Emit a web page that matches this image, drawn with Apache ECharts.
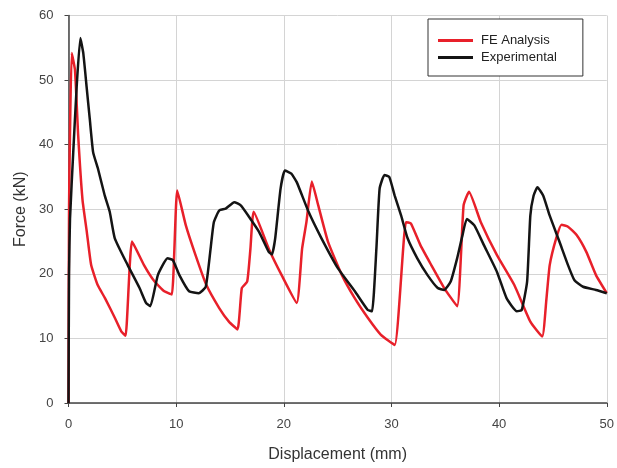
<!DOCTYPE html>
<html>
<head>
<meta charset="utf-8">
<script src="https://cdn.jsdelivr.net/npm/echarts@6/dist/echarts.min.js"></script>
<style>
  html, body { margin: 0; padding: 0; background: #fff; }
  #chart { width: 617px; height: 468px; }
</style>
</head>
<body>
<div id="chart"></div>
<script>
// Force-displacement response: finite element prediction vs. test
const feX = [0, 0.05, 0.3, 0.6, 0.9, 1.3, 1.7, 2.1, 2.7, 3.4, 4.3, 4.9, 5.3, 5.9, 7.0, 8.0, 8.9, 9.6, 10.1, 10.9, 11.8, 12.8, 14.0, 14.9, 15.7, 16.1, 16.6, 16.9, 17.2, 18.6, 19.8, 21.2, 21.7, 22.1, 22.6, 23.2, 24.1, 25.4, 26.6, 27.8, 29.0, 30.3, 31.35, 31.8, 32.7, 33.7, 34.9, 36.1, 36.7, 37.2, 38.3, 39.8, 41.4, 42.9, 44.0, 44.4, 44.7, 45.3, 45.8, 46.4, 47.2, 48.1, 49.0, 50];
const feY = [0, 30, 54.2, 51.6, 41.4, 31.5, 26.5, 21.4, 18.3, 16.2, 13.2, 11.1, 10.4, 25.0, 21.4, 18.8, 17.3, 16.8, 32.9, 27.5, 22.9, 18.3, 14.7, 12.6, 11.4, 17.8, 18.8, 23.9, 29.6, 23.9, 19.8, 15.5, 23.9, 28.0, 34.3, 30.6, 25.0, 19.8, 16.2, 13.2, 10.6, 9.0, 28.0, 27.8, 24.4, 21.35, 17.8, 15.0, 30.6, 32.7, 28.0, 22.9, 18.3, 12.6, 10.3, 16.2, 21.35, 25.5, 27.6, 27.3, 26.0, 23.4, 19.8, 17.0];

const expX = [0, 0.05, 0.14, 0.44, 0.76, 1.1, 1.37, 1.68, 1.98, 2.29, 2.75, 3.37, 3.83, 4.3, 5.5, 6.6, 7.2, 7.6, 8.3, 9.2, 9.7, 10.3, 11.2, 12.1, 12.75, 13.2, 13.5, 14.0, 14.6, 15.4, 16.0, 16.7, 17.7, 18.6, 18.9, 19.2, 19.7, 20.1, 20.7, 21.2, 22.3, 23.5, 25.05, 26.6, 27.8, 28.2, 28.6, 28.9, 29.35, 29.8, 30.3, 30.9, 31.5, 32.4, 33.35, 34.3, 34.9, 35.5, 36.1, 36.6, 37.0, 37.7, 38.6, 39.8, 40.7, 41.65, 42.1, 42.6, 42.9, 43.2, 43.56, 44.1, 44.7, 45.6, 46.4, 47.0, 47.8, 49.0, 50];
const expY = [0, 20, 28.5, 38.8, 49, 56.5, 54.2, 49, 43.9, 38.8, 36.2, 32.1, 29.6, 25.5, 21.35, 17.8, 15.5, 15.0, 19.8, 22.4, 22.1, 19.8, 17.3, 17.0, 18.0, 23.9, 28.0, 29.8, 30.1, 31.1, 30.6, 29.0, 26.5, 23.4, 23.0, 25.5, 33.2, 36.0, 35.5, 34.2, 29.6, 25.5, 20.8, 17.3, 14.4, 14.2, 23.9, 33.2, 35.3, 35.0, 32.1, 29.0, 25.5, 22.4, 19.8, 17.8, 17.5, 18.8, 22.4, 26.0, 28.5, 27.5, 24.4, 20.3, 16.2, 14.2, 14.4, 18.8, 29.0, 32.1, 33.4, 32.1, 29.0, 25.0, 21.35, 19.0, 18.0, 17.5, 17.0];

const seriesNames = ['FE Analysis', 'Experimental'];
const xTitle = 'Displacement (mm)';
const yTitle = 'Force (kN)';

const pairs = (xs, ys) => xs.map((x, i) => [x, ys[i]]);
const font = 'Arial, "Liberation Sans", sans-serif';

const chart = echarts.init(document.getElementById('chart'), null, { renderer: 'canvas' });
chart.setOption({
  animation: false,
  backgroundColor: '#ffffff',
  grid: { left: 68.5, right: 6.5, top: 15.5, bottom: 62.5, containLabel: false },
  legend: {
    orient: 'vertical',
    left: 428,
    top: 19,
    padding: [15, 26, 12, 10],
    itemGap: 4,
    itemWidth: 35,
    itemHeight: 3,
    icon: 'rect',
    borderColor: '#333',
    borderWidth: 1,
    backgroundColor: '#fff',
    textStyle: { fontFamily: font, fontSize: 13, color: '#222', padding: [0, 0, 0, 3] },
    data: seriesNames
  },
  xAxis: {
    type: 'value',
    min: 0, max: 50, interval: 10,
    name: xTitle,
    nameLocation: 'middle',
    nameGap: 44,
    nameTextStyle: { fontFamily: font, fontSize: 16, color: '#333' },
    axisLine: { show: true, onZero: false, lineStyle: { color: '#444', width: 1.5 } },
    axisTick: { show: true, inside: false, length: 4, lineStyle: { color: '#444' } },
    axisLabel: { fontFamily: font, fontSize: 13, color: '#444', margin: 15 },
    splitLine: { show: true, lineStyle: { color: '#d4d4d4', width: 1 } }
  },
  yAxis: {
    type: 'value',
    min: 0, max: 60, interval: 10,
    name: yTitle,
    nameLocation: 'middle',
    nameGap: 39,
    nameTextStyle: { fontFamily: font, fontSize: 16, color: '#333' },
    axisLine: { show: true, onZero: false, lineStyle: { color: '#444', width: 1.5 } },
    axisTick: { show: true, inside: false, length: 4, lineStyle: { color: '#444' } },
    axisLabel: { fontFamily: font, fontSize: 13, color: '#444', margin: 15 },
    splitLine: { show: true, lineStyle: { color: '#d4d4d4', width: 1 } }
  },
  series: [
    {
      name: seriesNames[0],
      type: 'line',
      data: pairs(feX, feY),
      showSymbol: false,
      symbol: 'none',
      smooth: 0.15,
      lineStyle: { color: '#e8202a', width: 2.5 },
      itemStyle: { color: '#e8202a' },
      z: 2
    },
    {
      name: seriesNames[1],
      type: 'line',
      data: pairs(expX, expY),
      showSymbol: false,
      symbol: 'none',
      smooth: 0.15,
      lineStyle: { color: '#141414', width: 2.5 },
      itemStyle: { color: '#141414' },
      z: 3
    }
  ]
});
</script>
</body>
</html>
